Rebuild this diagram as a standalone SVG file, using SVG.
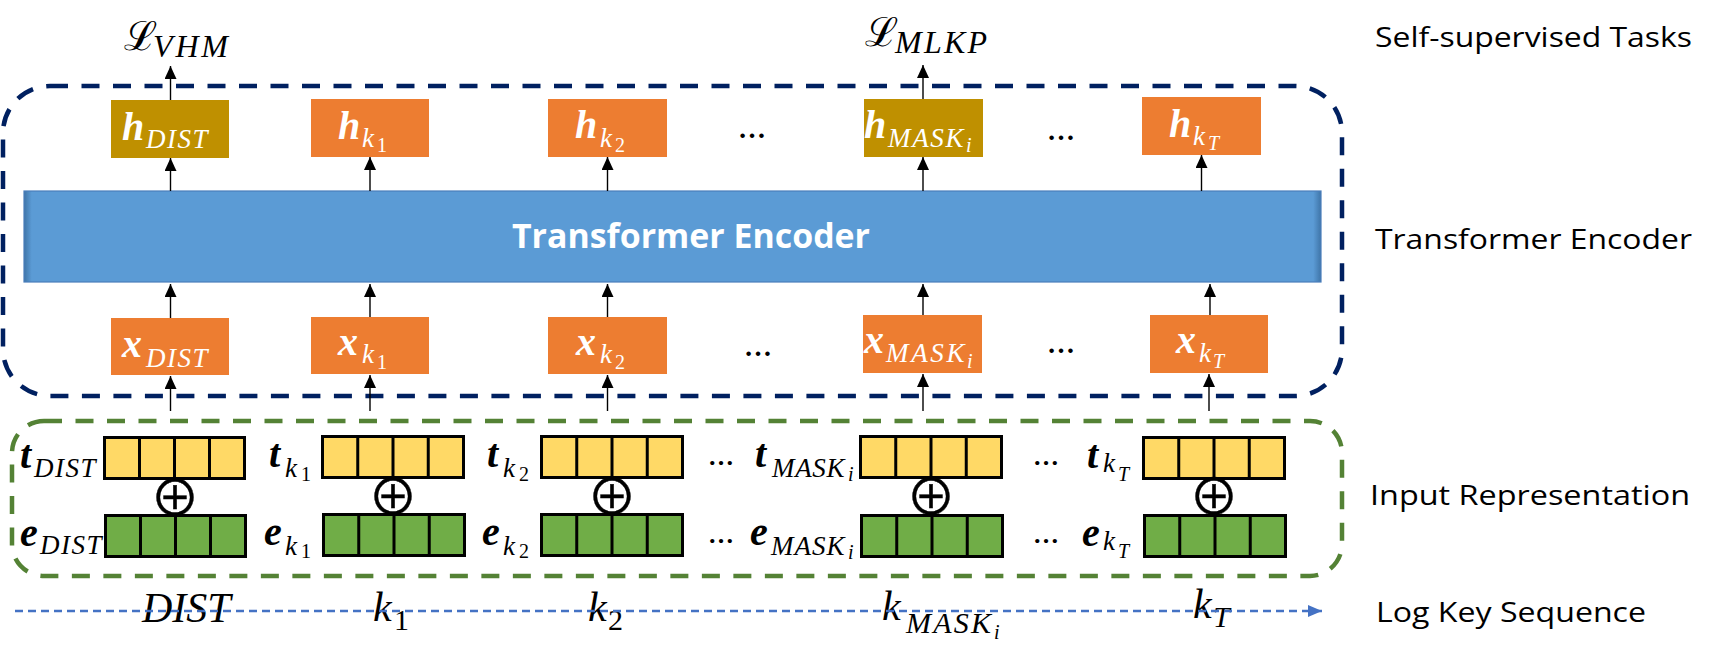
<svg xmlns="http://www.w3.org/2000/svg" width="1717" height="656" viewBox="0 0 1717 656">
<style>
  .math{font-family:"Liberation Serif","DejaVu Serif",serif;}
  .bv{font-family:"Liberation Serif","DejaVu Serif",serif;font-style:italic;font-weight:bold;font-size:40px;}
  .sb{font-family:"Liberation Serif","DejaVu Serif",serif;font-style:italic;font-size:27px;letter-spacing:1.5px;}
  .ssd{font-family:"Liberation Serif","DejaVu Serif",serif;font-size:20px;}
  .ssi{font-family:"Liberation Serif","DejaVu Serif",serif;font-style:italic;font-size:20px;}
  .tok{font-family:"Liberation Serif","DejaVu Serif",serif;font-style:italic;font-size:42px;}
  .tokd{font-family:"Liberation Serif","DejaVu Serif",serif;font-size:30px;}
  .toki{font-family:"Liberation Serif","DejaVu Serif",serif;font-style:italic;font-size:30px;}
  .w{fill:#ffffff;}
  .k{fill:#000000;}
  .orange{fill:#ED7D31;}
  .gold{fill:#BF9000;}
  .tbar{fill:#FFD966;stroke:#000;stroke-width:3;}
  .ebar{fill:#70AD47;stroke:#000;stroke-width:3;}
  .div{stroke:#000;stroke-width:3;}
  .arr{stroke:#000;stroke-width:1.4;fill:none;marker-end:url(#ah);}
  .side{font-family:"Open Sans","Noto Sans","DejaVu Sans",sans-serif;font-size:28px;fill:#000;}
  .dots{font-family:"Liberation Serif",serif;font-weight:bold;font-size:28px;fill:#000;text-anchor:middle;}
  .dots2{font-family:"Liberation Serif",serif;font-weight:bold;font-size:26px;fill:#000;text-anchor:middle;}
  .oplus{font-family:"Noto Sans CJK SC","DejaVu Sans",sans-serif;font-size:50px;fill:#000;stroke:#000;stroke-width:0.4;text-anchor:middle;}
</style>
<defs>
  <marker id="ah" markerUnits="userSpaceOnUse" markerWidth="13" markerHeight="12" refX="13" refY="6" orient="auto">
    <path d="M0,0 L13,6 L0,12 z" fill="#000"/>
  </marker>
  <marker id="ahb" markerUnits="userSpaceOnUse" markerWidth="14" markerHeight="12" refX="14" refY="6" orient="auto">
    <path d="M0,0 L14,6 L0,12 z" fill="#4472C4"/>
  </marker>
  <linearGradient id="bargrad" x1="0" y1="0" x2="1" y2="0">
    <stop offset="0" stop-color="#3F75A8"/>
    <stop offset="0.006" stop-color="#5B9BD5"/>
    <stop offset="0.994" stop-color="#5B9BD5"/>
    <stop offset="1" stop-color="#3F75A8"/>
  </linearGradient>
</defs>

<!-- group containers -->
<g id="encoder-group">
  <rect x="3" y="86" width="1339" height="310" rx="47" ry="47" fill="none" stroke="#002060" stroke-width="4.5" stroke-dasharray="18 13.5"/>
</g>
<g id="input-group">
  <rect x="12" y="421" width="1330" height="155" rx="32" ry="32" fill="none" stroke="#548235" stroke-width="4.5" stroke-dasharray="18 13.5"/>
</g>

<!-- Transformer encoder -->
<g id="transformer">
  <rect x="24" y="191" width="1297" height="91" fill="url(#bargrad)" stroke="#4A7EBB" stroke-width="1.2"/>
  <text x="512" y="248" font-family="'Open Sans','Noto Sans','DejaVu Sans',sans-serif" font-weight="bold" font-size="34" fill="#fff" textLength="358" lengthAdjust="spacingAndGlyphs">Transformer Encoder</text>
</g>

<!-- h nodes -->
<g id="h-dist">
  <rect class="gold" x="111" y="100" width="118" height="58"/>
  <text class="w"><tspan class="bv" x="122" y="140">h</tspan><tspan class="sb" x="146" y="148">DIST</tspan></text>
</g>
<g id="h-k1">
  <rect class="orange" x="311" y="99" width="118" height="58"/>
  <text class="w"><tspan class="bv" x="338" y="139">h</tspan><tspan class="sb" x="362" y="147">k</tspan><tspan class="ssd" x="377" y="152">1</tspan></text>
</g>
<g id="h-k2">
  <rect class="orange" x="548" y="99" width="119" height="58"/>
  <text class="w"><tspan class="bv" x="575" y="138">h</tspan><tspan class="sb" x="600" y="147">k</tspan><tspan class="ssd" x="615" y="152">2</tspan></text>
</g>
<g id="h-mask">
  <rect class="gold" x="864" y="99" width="119" height="58"/>
  <text class="w"><tspan class="bv" x="864" y="138">h</tspan><tspan class="sb" x="888" y="147" textLength="77" lengthAdjust="spacing">MASK</tspan><tspan class="ssi" x="966" y="152">i</tspan></text>
</g>
<g id="h-kT">
  <rect class="orange" x="1142" y="97" width="119" height="58"/>
  <text class="w"><tspan class="bv" x="1169" y="137">h</tspan><tspan class="sb" x="1193" y="145">k</tspan><tspan class="ssi" x="1208" y="150">T</tspan></text>
</g>
<text class="dots" x="752" y="138">…</text>
<text class="dots" x="1061" y="140">…</text>

<!-- x nodes -->
<g id="x-dist">
  <rect class="orange" x="111" y="318" width="118" height="57"/>
  <text class="w"><tspan class="bv" x="122" y="357">x</tspan><tspan class="sb" x="146" y="367">DIST</tspan></text>
</g>
<g id="x-k1">
  <rect class="orange" x="311" y="317" width="118" height="57"/>
  <text class="w"><tspan class="bv" x="338" y="355">x</tspan><tspan class="sb" x="362" y="363">k</tspan><tspan class="ssd" x="377" y="369">1</tspan></text>
</g>
<g id="x-k2">
  <rect class="orange" x="548" y="317" width="119" height="57"/>
  <text class="w"><tspan class="bv" x="576" y="355">x</tspan><tspan class="sb" x="600" y="363">k</tspan><tspan class="ssd" x="615" y="369">2</tspan></text>
</g>
<g id="x-mask">
  <rect class="orange" x="863" y="315" width="119" height="58"/>
  <text class="w"><tspan class="bv" x="864" y="353">x</tspan><tspan class="sb" x="886" y="362" textLength="80" lengthAdjust="spacing">MASK</tspan><tspan class="ssi" x="967" y="368">i</tspan></text>
</g>
<g id="x-kT">
  <rect class="orange" x="1150" y="315" width="118" height="58"/>
  <text class="w"><tspan class="bv" x="1176" y="353">x</tspan><tspan class="sb" x="1199" y="362">k</tspan><tspan class="ssi" x="1213" y="368">T</tspan></text>
</g>
<text class="dots" x="758" y="356">…</text>
<text class="dots" x="1061" y="353">…</text>

<!-- losses -->
<g id="loss-vhm">
  <text class="k math"><tspan x="124" y="50" font-size="40">ℒ</tspan><tspan x="153" y="57" font-size="32" font-style="italic" textLength="75" lengthAdjust="spacing">VHM</tspan></text>
</g>
<g id="loss-mlkp">
  <text class="k math"><tspan x="865" y="46" font-size="40">ℒ</tspan><tspan x="895" y="53" font-size="32" font-style="italic" textLength="92" lengthAdjust="spacing">MLKP</tspan></text>
</g>

<!-- input representation -->
<g id="rep-dist">
  <rect class="tbar" x="104.5" y="437.5" width="140" height="41"/>
  <line class="div" x1="139.5" y1="437.5" x2="139.5" y2="478.5"/><line class="div" x1="174.5" y1="437.5" x2="174.5" y2="478.5"/><line class="div" x1="209.5" y1="437.5" x2="209.5" y2="478.5"/>
  <rect class="ebar" x="105.5" y="515.5" width="140" height="41"/>
  <line class="div" x1="140.5" y1="515.5" x2="140.5" y2="556.5"/><line class="div" x1="175.5" y1="515.5" x2="175.5" y2="556.5"/><line class="div" x1="210.5" y1="515.5" x2="210.5" y2="556.5"/>
  <text class="oplus" x="175" y="516">⊕</text>
  <text class="k"><tspan class="bv" x="20" y="468">t</tspan><tspan class="sb" x="34" y="477">DIST</tspan></text>
  <text class="k"><tspan class="bv" x="20" y="546">e</tspan><tspan class="sb" x="40" y="554">DIST</tspan></text>
</g>
<g id="rep-k1">
  <rect class="tbar" x="322.5" y="436.5" width="141" height="41"/>
  <line class="div" x1="357.75" y1="436.5" x2="357.75" y2="477.5"/><line class="div" x1="393" y1="436.5" x2="393" y2="477.5"/><line class="div" x1="428.25" y1="436.5" x2="428.25" y2="477.5"/>
  <rect class="ebar" x="323.5" y="514.5" width="141" height="41"/>
  <line class="div" x1="358.75" y1="514.5" x2="358.75" y2="555.5"/><line class="div" x1="394" y1="514.5" x2="394" y2="555.5"/><line class="div" x1="429.25" y1="514.5" x2="429.25" y2="555.5"/>
  <text class="oplus" x="393" y="515">⊕</text>
  <text class="k"><tspan class="bv" x="269" y="467">t</tspan><tspan class="sb" x="285" y="477">k</tspan><tspan class="ssd" x="301" y="481">1</tspan></text>
  <text class="k"><tspan class="bv" x="264" y="545">e</tspan><tspan class="sb" x="285" y="555">k</tspan><tspan class="ssd" x="301" y="558">1</tspan></text>
</g>
<g id="rep-k2">
  <rect class="tbar" x="541.5" y="436.5" width="141" height="41"/>
  <line class="div" x1="576.75" y1="436.5" x2="576.75" y2="477.5"/><line class="div" x1="612" y1="436.5" x2="612" y2="477.5"/><line class="div" x1="647.25" y1="436.5" x2="647.25" y2="477.5"/>
  <rect class="ebar" x="541.5" y="514.5" width="141" height="41"/>
  <line class="div" x1="576.75" y1="514.5" x2="576.75" y2="555.5"/><line class="div" x1="612" y1="514.5" x2="612" y2="555.5"/><line class="div" x1="647.25" y1="514.5" x2="647.25" y2="555.5"/>
  <text class="oplus" x="612" y="515">⊕</text>
  <text class="k"><tspan class="bv" x="487" y="467">t</tspan><tspan class="sb" x="503" y="477">k</tspan><tspan class="ssd" x="519" y="481">2</tspan></text>
  <text class="k"><tspan class="bv" x="482" y="545">e</tspan><tspan class="sb" x="503" y="555">k</tspan><tspan class="ssd" x="519" y="558">2</tspan></text>
</g>
<g id="rep-mask">
  <rect class="tbar" x="860.5" y="436.5" width="141" height="41"/>
  <line class="div" x1="895.75" y1="436.5" x2="895.75" y2="477.5"/><line class="div" x1="931" y1="436.5" x2="931" y2="477.5"/><line class="div" x1="966.25" y1="436.5" x2="966.25" y2="477.5"/>
  <rect class="ebar" x="861.5" y="515.5" width="141" height="41"/>
  <line class="div" x1="896.75" y1="515.5" x2="896.75" y2="556.5"/><line class="div" x1="932" y1="515.5" x2="932" y2="556.5"/><line class="div" x1="967.25" y1="515.5" x2="967.25" y2="556.5"/>
  <text class="oplus" x="931" y="515">⊕</text>
  <text class="k"><tspan class="bv" x="755" y="467">t</tspan><tspan class="sb" x="772" y="477" textLength="74" lengthAdjust="spacing">MASK</tspan><tspan class="ssi" x="848" y="481">i</tspan></text>
  <text class="k"><tspan class="bv" x="750" y="545">e</tspan><tspan class="sb" x="771" y="555" textLength="75" lengthAdjust="spacing">MASK</tspan><tspan class="ssi" x="848" y="559">i</tspan></text>
</g>
<g id="rep-kT">
  <rect class="tbar" x="1143.5" y="437.5" width="141" height="41"/>
  <line class="div" x1="1178.75" y1="437.5" x2="1178.75" y2="478.5"/><line class="div" x1="1214" y1="437.5" x2="1214" y2="478.5"/><line class="div" x1="1249.25" y1="437.5" x2="1249.25" y2="478.5"/>
  <rect class="ebar" x="1144.5" y="515.5" width="141" height="41"/>
  <line class="div" x1="1179.75" y1="515.5" x2="1179.75" y2="556.5"/><line class="div" x1="1215" y1="515.5" x2="1215" y2="556.5"/><line class="div" x1="1250.25" y1="515.5" x2="1250.25" y2="556.5"/>
  <text class="oplus" x="1214" y="515">⊕</text>
  <text class="k"><tspan class="bv" x="1087" y="468">t</tspan><tspan class="sb" x="1103" y="472">k</tspan><tspan class="ssi" x="1118" y="481">T</tspan></text>
  <text class="k"><tspan class="bv" x="1082" y="546">e</tspan><tspan class="sb" x="1103" y="550">k</tspan><tspan class="ssi" x="1118" y="558">T</tspan></text>
</g>
<text class="dots2" x="721" y="465">…</text>
<text class="dots2" x="721" y="543">…</text>
<text class="dots2" x="1046" y="465">…</text>
<text class="dots2" x="1046" y="543">…</text>

<!-- log key sequence -->
<g id="log-keys">
  <text class="k"><tspan class="tok" x="142" y="622">DIST</tspan></text>
  <text class="k"><tspan class="tok" x="373" y="621">k</tspan><tspan class="tokd" x="394" y="630">1</tspan></text>
  <text class="k"><tspan class="tok" x="588" y="621">k</tspan><tspan class="tokd" x="608" y="630">2</tspan></text>
  <text class="k"><tspan class="tok" x="882" y="620">k</tspan><tspan class="toki" x="906" y="633" textLength="85" lengthAdjust="spacing">MASK</tspan><tspan class="ssi" x="994" y="639" font-size="24">i</tspan></text>
  <text class="k"><tspan class="tok" x="1193" y="618">k</tspan><tspan class="toki" x="1213" y="627">T</tspan></text>
</g>

<!-- connectors -->
<g id="connectors">
  <line class="arr" x1="170.5" y1="100" x2="170.5" y2="66"/>
  <line class="arr" x1="923" y1="99" x2="923" y2="65"/>
  <line class="arr" x1="170.5" y1="191" x2="170.5" y2="158"/>
  <line class="arr" x1="370" y1="191" x2="370" y2="157"/>
  <line class="arr" x1="607.5" y1="191" x2="607.5" y2="157"/>
  <line class="arr" x1="923" y1="191" x2="923" y2="157"/>
  <line class="arr" x1="1201.5" y1="191" x2="1201.5" y2="155"/>
  <line class="arr" x1="170.5" y1="318" x2="170.5" y2="284"/>
  <line class="arr" x1="370" y1="317" x2="370" y2="284"/>
  <line class="arr" x1="607.5" y1="317" x2="607.5" y2="284"/>
  <line class="arr" x1="923" y1="315" x2="923" y2="284"/>
  <line class="arr" x1="1210" y1="315" x2="1210" y2="284"/>
  <line class="arr" x1="170.5" y1="411" x2="170.5" y2="376"/>
  <line class="arr" x1="370" y1="411" x2="370" y2="375"/>
  <line class="arr" x1="607.5" y1="411" x2="607.5" y2="375"/>
  <line class="arr" x1="923" y1="411" x2="923" y2="374"/>
  <line class="arr" x1="1209" y1="411" x2="1209" y2="374"/>
  <line x1="15" y1="611" x2="1322" y2="611" stroke="#4472C4" stroke-width="2.5" stroke-dasharray="8 5" marker-end="url(#ahb)"/>
</g>

<!-- side labels -->
<g id="side-labels">
  <text class="side" x="1375" y="47" textLength="317" lengthAdjust="spacingAndGlyphs">Self-supervised Tasks</text>
  <text class="side" x="1375" y="249" textLength="317" lengthAdjust="spacingAndGlyphs">Transformer Encoder</text>
  <text class="side" x="1370" y="505" textLength="320" lengthAdjust="spacingAndGlyphs">Input Representation</text>
  <text class="side" x="1376" y="622" textLength="270" lengthAdjust="spacingAndGlyphs">Log Key Sequence</text>
</g>
</svg>
